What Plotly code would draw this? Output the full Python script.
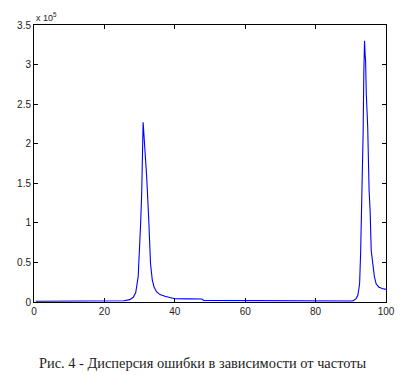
import plotly.graph_objects as go

freq = [0.5, 5, 10, 15, 20, 24.4, 25.5, 27.2, 28.2, 28.9, 29.6, 30.3, 30.6, 31.0,
        31.5, 32.0, 32.6, 33.1, 33.6, 34.1, 34.8, 35.8, 37.2, 39.0, 40.0, 44.0,
        47.7, 48.2, 55, 65, 75, 85.5, 86.0, 90.5, 91.0, 91.5, 92.0, 92.5, 92.8,
        93.2, 93.5, 93.7, 93.9, 94.1, 94.2, 94.4, 94.8, 95.2, 95.5, 95.8, 96.2,
        96.7, 97.2, 97.9, 98.9, 100.0]
dispersion_e5 = [0.01, 0.01, 0.01, 0.01, 0.01, 0.012, 0.015, 0.03, 0.06, 0.12, 0.32,
                 1.0, 1.38, 2.27, 1.97, 1.59, 1.04, 0.49, 0.28, 0.19, 0.13, 0.094,
                 0.072, 0.05, 0.042, 0.04, 0.038, 0.02, 0.019, 0.019, 0.018, 0.017,
                 0.01, 0.012, 0.025, 0.043, 0.085, 0.23, 0.63, 1.37, 2.13, 2.89,
                 3.30, 3.1, 3.06, 2.63, 2.21, 1.41, 1.14, 0.65, 0.46, 0.32, 0.23,
                 0.19, 0.17, 0.16]
dispersion = [v * 1e5 for v in dispersion_e5]

x_ticks = [0, 20, 40, 60, 80, 100]
y_ticks = [0, 0.5e5, 1e5, 1.5e5, 2e5, 2.5e5, 3e5, 3.5e5]
y_tick_text = ["0", "0.5", "1", "1.5", "2", "2.5", "3", "3.5"]
caption = "Рис. 4 - Дисперсия ошибки в зависимости от частоты"

fig = go.Figure()
fig.add_trace(go.Scatter(x=freq, y=dispersion, mode="lines",
                         line=dict(color="#0000ff", width=1.1)))

axis_common = dict(showline=True, linecolor="black", linewidth=1, mirror="ticks",
                   ticks="inside", ticklen=4, tickcolor="black", showgrid=False,
                   zeroline=False, automargin=False,
                   tickfont=dict(family="Liberation Sans", size=10, color="#222"))
fig.update_xaxes(range=[0, 100], tickvals=x_ticks, **axis_common)
fig.update_yaxes(range=[0, 3.5e5], tickvals=y_ticks, ticktext=y_tick_text, **axis_common)

fig.add_annotation(text="x 10<sup>5</sup>", xref="paper", yref="paper", x=0, y=1,
                   xanchor="left", yanchor="bottom", showarrow=False,
                   font=dict(family="Liberation Sans", size=9, color="#222"))
fig.add_annotation(text=caption, xref="paper", yref="paper", x=0.48, y=-0.22,
                   xanchor="center", yanchor="middle", showarrow=False,
                   font=dict(family="Liberation Serif", size=14.4, color="#222"))

# page body has an 8px default margin, so the figure is sized to fit the window
fig.update_layout(width=403, height=367, showlegend=False,
                  margin=dict(l=26, r=25, t=17, b=73, autoexpand=False),
                  plot_bgcolor="white", paper_bgcolor="white")
fig.write_html("out.html")
